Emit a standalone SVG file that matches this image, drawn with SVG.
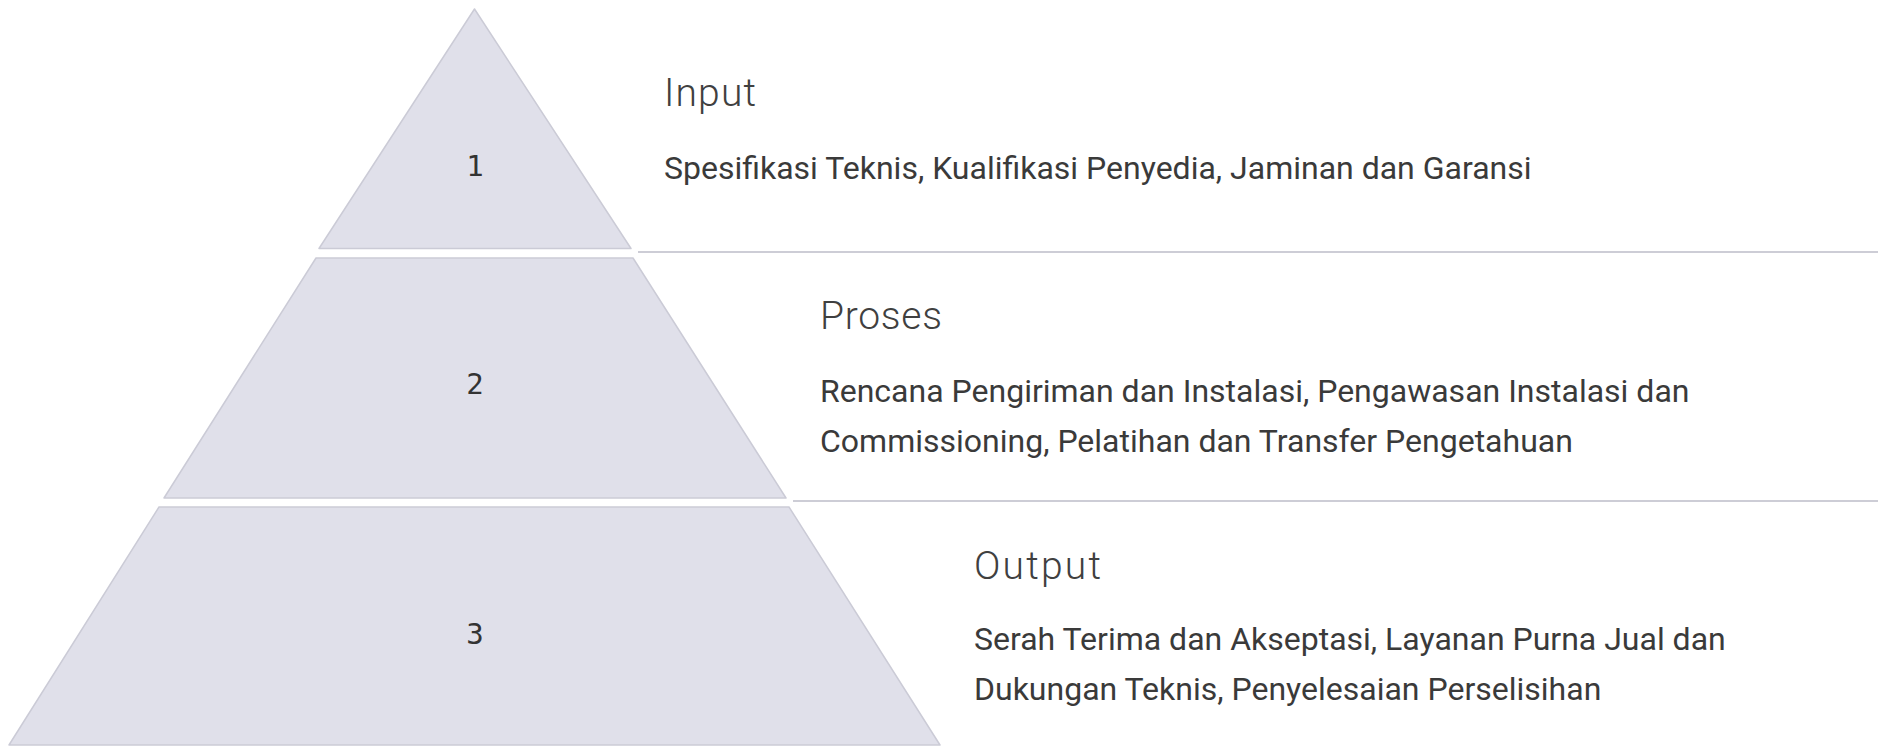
<svg xmlns="http://www.w3.org/2000/svg" width="1883" height="746" viewBox="0 0 1883 746">
<style>
.seg{fill:#e0e0ea;stroke:#cbcbd6;stroke-width:1.5;stroke-linejoin:round}
.num{font-family:"DejaVu Sans Mono","Liberation Mono",monospace;font-size:29px;fill:#333;text-anchor:middle}
.title{font-family:Roboto,"Liberation Sans",sans-serif;font-weight:300;font-size:39px;fill:#404040}
.body{font-family:Roboto,"Liberation Sans",sans-serif;font-size:32px;fill:#3a3a3a}
.sep{stroke:#cdcdd6;stroke-width:2;fill:none}
</style>
<rect width="1883" height="746" fill="#ffffff"/>
<g id="connectors">
<line class="sep" x1="638" y1="252" x2="1878" y2="252"/>
<line class="sep" x1="793" y1="501" x2="1878" y2="501"/>
</g>
<g id="level1">
<polygon class="seg" points="474.5,9 631,248.5 319,248.5"/>
<text class="num" x="475" y="176">1</text>
<text class="title" x="664" y="106" textLength="92" lengthAdjust="spacing">Input</text>
<text class="body" x="664" y="179">Spesifikasi Teknis, Kualifikasi Penyedia, Jaminan dan Garansi</text>
</g>
<g id="level2">
<polygon class="seg" points="316,258 633,258 786,498 164,498"/>
<text class="num" x="475" y="394">2</text>
<text class="title" x="820" y="329" textLength="122" lengthAdjust="spacing">Proses</text>
<text class="body" x="820" y="402">Rencana Pengiriman dan Instalasi, Pengawasan Instalasi dan</text>
<text class="body" x="820" y="452">Commissioning, Pelatihan dan Transfer Pengetahuan</text>
</g>
<g id="level3">
<polygon class="seg" points="159,507 789,507 940,745 9,745"/>
<text class="num" x="475" y="644">3</text>
<text class="title" x="974" y="579" textLength="127" lengthAdjust="spacing">Output</text>
<text class="body" x="974" y="650">Serah Terima dan Akseptasi, Layanan Purna Jual dan</text>
<text class="body" x="974" y="700">Dukungan Teknis, Penyelesaian Perselisihan</text>
</g>
</svg>
